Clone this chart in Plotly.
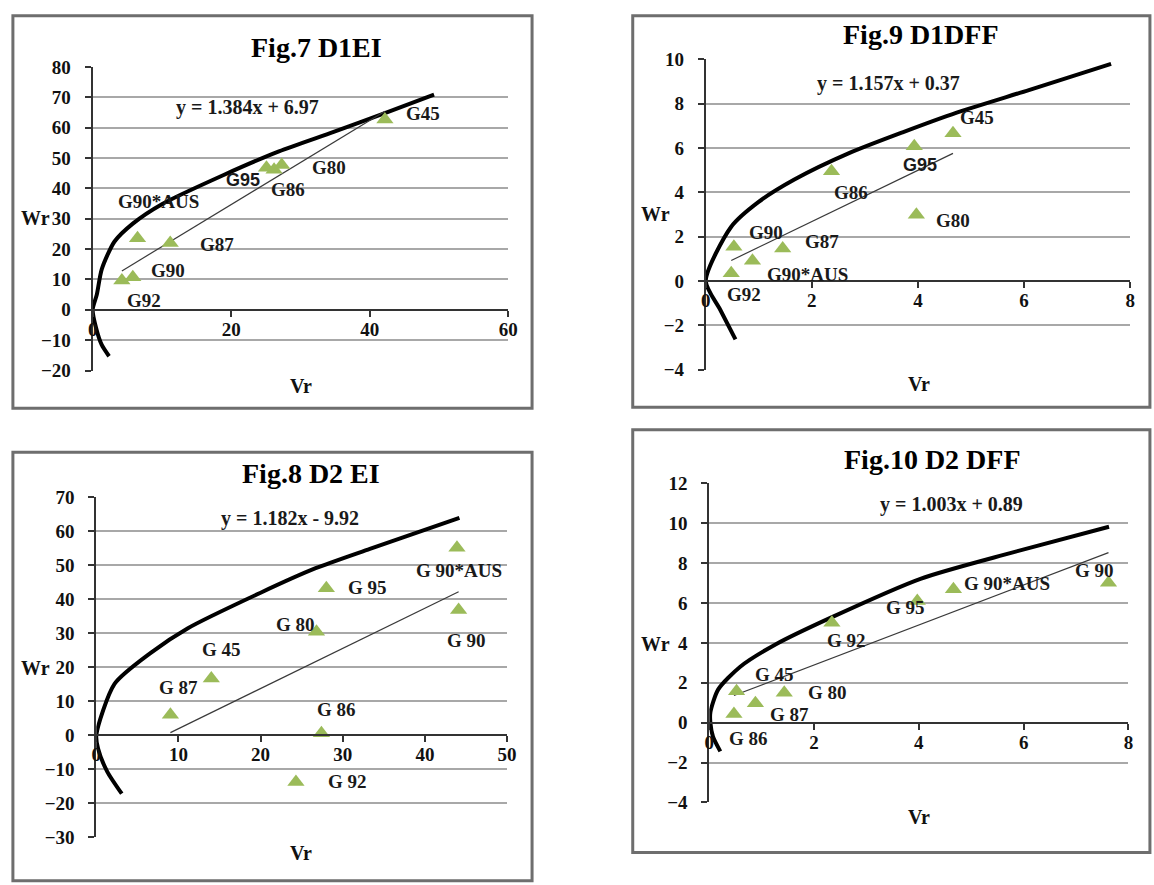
import plotly.graph_objects as go

W, H = 1154, 885

# ---------------- data ----------------
# Fig.7 D1 EI
g_d1ei = ["G92", "G90", "G90*AUS", "G87", "G95", "G86", "G80", "G45"]
vr_d1ei = [4.22, 5.80, 6.48, 11.2, 25.1, 26.2, 27.3, 42.2]
wr_d1ei = [9.65, 10.7, 23.6, 22.0, 46.8, 46.1, 47.7, 62.7]
fit_d1ei = [1.384, 6.97]
eq_d1ei = "y = 1.384x + 6.97"
curve_vr_d1ei = [2.37, 1.3, 0.5, 0.0, 0.6, 1.32, 3.16, 5.8, 10.0, 19.0, 26.9, 34.8, 42.2, 49.3]
curve_wr_d1ei = [-15.3, -11.5, -6.0, 0.0, 5.0, 13.4, 22.5, 28.4, 34.8, 44.5, 52.2, 58.6, 64.8, 70.9]

# Fig.9 D1 DFF
g_d1dff = ["G92", "G90", "G90*AUS", "G87", "G86", "G95", "G80", "G45"]
vr_d1dff = [0.48, 0.53, 0.88, 1.45, 2.37, 3.93, 3.97, 4.66]
wr_d1dff = [0.35, 1.54, 0.91, 1.47, 4.95, 6.08, 2.99, 6.67]
fit_d1dff = [1.157, 0.37]
eq_d1dff = "y = 1.157x + 0.37"
curve_vr_d1dff = [0.56, 0.27, 0.0, 0.48, 0.99, 1.67, 2.69, 3.71, 4.73, 6.09, 7.64]
curve_wr_d1dff = [-2.64, -1.29, 0.0, 2.45, 3.56, 4.58, 5.76, 6.71, 7.60, 8.62, 9.80]

# Fig.8 D2 EI
g_d2ei = ["G 87", "G 45", "G 80", "G 95", "G 86", "G 92", "G 90*AUS", "G 90"]
vr_d2ei = [9.02, 14.0, 26.8, 28.0, 27.4, 24.3, 43.9, 44.1]
wr_d2ei = [6.03, 16.7, 30.4, 43.2, 0.57, -13.8, 55.1, 36.8]
fit_d2ei = [1.182, -9.92]
eq_d2ei = "y = 1.182x - 9.92"
curve_vr_d2ei = [3.1, 1.33, 0.22, 0.0, 2.22, 6.67, 11.1, 20.0, 26.7, 33.3, 44.2]
curve_wr_d2ei = [-17.2, -10.7, -4.0, 0.0, 15.1, 24.3, 31.4, 41.9, 49.1, 54.8, 63.9]

# Fig.10 D2 DFF
g_d2dff = ["G 86", "G 45", "G 87", "G 80", "G 92", "G 95", "G 90*AUS", "G 90"]
vr_d2dff = [0.47, 0.52, 0.88, 1.43, 2.34, 3.97, 4.66, 7.62]
wr_d2dff = [0.44, 1.58, 0.98, 1.50, 5.01, 6.11, 6.69, 7.02]
fit_d2dff = [1.003, 0.89]
eq_d2dff = "y = 1.003x + 0.89"
curve_vr_d2dff = [0.21, 0.07, 0.02, 0.02, 0.17, 0.59, 1.28, 2.31, 4.03, 5.76, 7.63]
curve_wr_d2dff = [-1.44, -0.7, 0.0, 0.52, 1.67, 2.81, 3.95, 5.26, 7.22, 8.52, 9.83]

titles = ["Fig.7 D1EI", "Fig.9 D1DFF", "Fig.8 D2 EI", "Fig.10 D2 DFF"]

# ---------------- layout / style ----------------
SERIF = "Liberation Serif, Times New Roman, serif"
SANS = "Liberation Sans, Arial, sans-serif"
GREEN = "#9BBB59"

panels = [
    dict(g=g_d1ei, vr=vr_d1ei, wr=wr_d1ei, fit=fit_d1ei, eq=eq_d1ei,
         cx=curve_vr_d1ei, cy=curve_wr_d1ei, title=titles[0],
         xdom=(88.8, 509.8), ydom=(369.3, 58.3), xr=(0, 60), yr=(-20, 80), dx=20, dy=10,
         border=(8, 6, 534, 408), title_xy=(316, 38), wr_xy=(31, 213), vr_xy=(300, 385),
         eq_xy=(22.4, 66.5),
         offs=[(22, -20), (35, 7), (21, 37), (47, -1), (-23, -12), (14, -20), (47, -3), (38, 6)],
         sans=["G95"]),
    dict(g=g_d1dff, vr=vr_d1dff, wr=wr_d1dff, fit=fit_d1dff, eq=eq_d1dff,
         cx=curve_vr_d1dff, cy=curve_wr_d1dff, title=titles[1],
         xdom=(710, 1140), ydom=(368.3, 50.7), xr=(0, 8), yr=(-4, 10), dx=2, dy=2,
         border=(636, 6, 1160, 407), title_xy=(928, 25), wr_xy=(659, 209), vr_xy=(926, 383),
         eq_xy=(3.44, 8.92),
         offs=[(13, -21), (32, 14), (55, -14), (39, 7), (19, -21), (6, -19), (37, -6), (24, 16)],
         sans=["G95"]),
    dict(g=g_d2ei, vr=vr_d2ei, wr=wr_d2ei, fit=fit_d2ei, eq=eq_d2ei,
         cx=curve_vr_d2ei, cy=curve_wr_d2ei, title=titles[2],
         xdom=(92.5, 508.7), ydom=(847.3, 499), xr=(0, 50), yr=(-30, 70), dx=10, dy=10,
         border=(8, 453, 534, 892), title_xy=(310, 475), wr_xy=(31, 674), vr_xy=(300, 863),
         eq_xy=(23.6, 63.7),
         offs=[(8, 27), (10, 29), (-21, 7), (41, 1), (15, 24), (52, 1), (2, -23), (8, -30)],
         sans=[]),
    dict(g=g_d2dff, vr=vr_d2dff, wr=wr_d2dff, fit=fit_d2dff, eq=eq_d2dff,
         cx=curve_vr_d2dff, cy=curve_wr_d2dff, title=titles[3],
         xdom=(713.6, 1138.2), ydom=(811.7, 485), xr=(0, 8), yr=(-4, 12), dx=2, dy=2,
         border=(636, 430, 1160, 863), title_xy=(940, 460), wr_xy=(659, 649), vr_xy=(926, 827),
         eq_xy=(4.62, 10.94),
         offs=[(15, -25), (38, 17), (34, -11), (43, 0), (15, -18), (-12, -7), (54, 6), (-14, 12)],
         sans=[]),
]

fig = go.Figure()
annotations = []
shapes = []
layout_axes = {}

def px(xp):
    return xp / W

def py(yp):
    return 1 - yp / H

def paper_text(xy, text, size, color="#111111"):
    return dict(x=px(xy[0]), y=py(xy[1]), xref="paper", yref="paper", text=text,
                showarrow=False, xanchor="center", yanchor="middle",
                font=dict(family=SERIF, size=size, color=color, weight="bold"))

for i, p in enumerate(panels, start=1):
    sfx = "" if i == 1 else str(i)
    xref, yref = "x" + sfx, "y" + sfx

    ydom = [py(p["ydom"][0]), py(p["ydom"][1])]
    ymin, ymax = p["yr"]
    zero_pos = ydom[0] + (0 - ymin) / (ymax - ymin) * (ydom[1] - ydom[0])

    tickfont = dict(family=SERIF, size=19, color="#111111", weight="bold")
    layout_axes["xaxis" + sfx] = dict(
        domain=[px(p["xdom"][0]), px(p["xdom"][1])], range=list(p["xr"]),
        anchor="free", position=zero_pos, tick0=0, dtick=p["dx"],
        showline=True, linecolor="#333333", linewidth=2,
        ticks="outside", ticklen=6, tickwidth=2, tickcolor="#333333",
        showgrid=False, zeroline=False, tickfont=tickfont, ticklabelstandoff=-4,
        fixedrange=True)
    layout_axes["yaxis" + sfx] = dict(
        domain=ydom, range=list(p["yr"]), anchor=xref, tick0=0, dtick=p["dy"],
        showline=True, linecolor="#333333", linewidth=2,
        ticks="outside", ticklen=6, tickwidth=2, tickcolor="#333333",
        showgrid=True, gridcolor="#a8a8a8", gridwidth=2, zeroline=False,
        tickfont=tickfont, ticklabelstandoff=10, fixedrange=True)

    # limiting parabola
    fig.add_trace(go.Scatter(x=p["cx"], y=p["cy"], mode="lines", xaxis=xref, yaxis=yref,
                             line=dict(color="black", width=4, shape="spline", smoothing=0.7),
                             hoverinfo="skip", showlegend=False, cliponaxis=False))
    # regression line
    xmin, xmax = min(p["vr"]), max(p["vr"])
    a, b = p["fit"]
    fig.add_trace(go.Scatter(x=[xmin, xmax], y=[a * xmin + b, a * xmax + b], mode="lines",
                             xaxis=xref, yaxis=yref, line=dict(color="#3a3a3a", width=1.2),
                             hoverinfo="skip", showlegend=False))
    # genotype points
    fig.add_trace(go.Scatter(x=p["vr"], y=p["wr"], mode="markers", xaxis=xref, yaxis=yref,
                             marker=dict(symbol="triangle-up", size=15, color=GREEN),
                             text=p["g"], showlegend=False))

    for name, xv, yv, (ox, oy) in zip(p["g"], p["vr"], p["wr"], p["offs"]):
        fam = SANS if name in p["sans"] else SERIF
        size = 18 if name in p["sans"] else 19
        annotations.append(dict(x=xv, y=yv, xref=xref, yref=yref, text=name, showarrow=False,
                                xshift=ox, yshift=oy, xanchor="center", yanchor="middle",
                                font=dict(family=fam, size=size, color="#1a1a1a", weight="bold")))

    annotations.append(dict(x=p["eq_xy"][0], y=p["eq_xy"][1], xref=xref, yref=yref, text=p["eq"],
                            showarrow=False, xanchor="center", yanchor="middle",
                            font=dict(family=SERIF, size=20, color="#1a1a1a", weight="bold")))
    annotations.append(paper_text(p["title_xy"], p["title"], 28, "black"))
    annotations.append(paper_text(p["wr_xy"], "Wr", 20))
    annotations.append(paper_text(p["vr_xy"], "Vr", 20))

    x0, y0, x1, y1 = p["border"]
    shapes.append(dict(type="rect", xref="paper", yref="paper",
                       x0=px(x0), x1=px(x1), y0=py(y1), y1=py(y0),
                       line=dict(color="#6e6e6e", width=3), layer="below"))

fig.update_layout(
    width=W, height=H, margin=dict(l=0, r=0, t=0, b=0),
    paper_bgcolor="white", plot_bgcolor="rgba(0,0,0,0)",
    showlegend=False, annotations=annotations, shapes=shapes, **layout_axes)

fig.write_html("out.html")
